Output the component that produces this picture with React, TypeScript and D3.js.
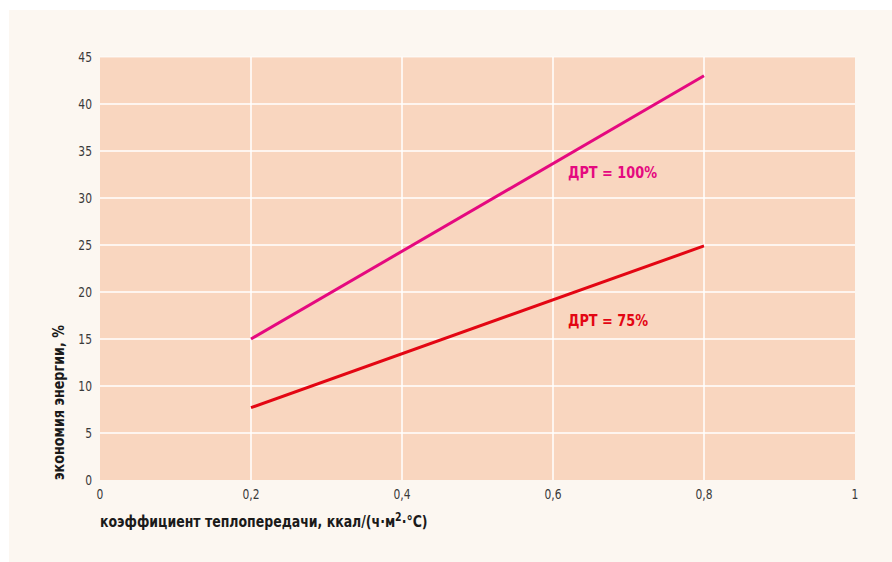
import React from "react";
import * as d3 from "d3";

// Heat transfer coefficient, kcal/(h·m²·°C)
const xValues = [0.2, 0.8];
// Energy savings, %, for each DRT level
const drt100 = [15, 43];
const drt75 = [7.7, 24.9];
const xTicks = [0, 0.2, 0.4, 0.6, 0.8, 1];
const yTicks = [0, 5, 10, 15, 20, 25, 30, 35, 40, 45];
const seriesLabels = ["ДРТ = 100%", "ДРТ = 75%"];

const W = 892;
const H = 562;
const plot = { left: 100, right: 855, top: 57, bottom: 480 };
const font = "'DejaVu Sans Condensed', 'DejaVu Sans', sans-serif";

export default function App() {
  const x = d3.scaleLinear().domain([0, 1]).range([plot.left, plot.right]);
  const y = d3.scaleLinear().domain([0, 45]).range([plot.bottom, plot.top]);
  const line = d3
    .line<[number, number]>()
    .x((d) => x(d[0]))
    .y((d) => y(d[1]));
  const pts = (vals: number[]) => xValues.map((v, i) => [v, vals[i]] as [number, number]);

  return (
    <svg width={W} height={H} style={{ position: "absolute", left: 0, top: 0 }}>
      <rect x={0} y={0} width={W} height={H} fill="#ffffff" />
      <rect x={9} y={10} width={W - 9} height={H - 10} fill="#fcf7f1" />
      <rect
        x={plot.left}
        y={plot.top}
        width={plot.right - plot.left}
        height={plot.bottom - plot.top}
        fill="#f9d6bf"
      />
      {yTicks.slice(1).map((t) => (
        <line key={"gy" + t} x1={plot.left} x2={plot.right} y1={y(t)} y2={y(t)} stroke="#ffffff" strokeWidth={1.5} opacity={t === 45 ? 0.5 : 1} />
      ))}
      {xTicks.slice(1, -1).map((t) => (
        <line key={"gx" + t} x1={x(t)} x2={x(t)} y1={plot.top} y2={plot.bottom} stroke="#ffffff" strokeWidth={1.5} />
      ))}
      {yTicks.map((t) => (
        <text key={"ty" + t} x={92} y={y(t) + 5} textAnchor="end" fontFamily={font} fontSize={14} fill="#3a3a3a"
          transform={`translate(92, 0) scale(0.85, 1) translate(-92, 0)`}>
          {t}
        </text>
      ))}
      {xTicks.map((t) => (
        <text key={"tx" + t} x={x(t)} y={499} textAnchor="middle" fontFamily={font} fontSize={14} fill="#3a3a3a"
          transform={`translate(${x(t)}, 0) scale(0.85, 1) translate(${-x(t)}, 0)`}>
          {String(t).replace(".", ",")}
        </text>
      ))}
      <path d={line(pts(drt100)) || ""} fill="none" stroke="#e5097f" strokeWidth={3} />
      <path d={line(pts(drt75)) || ""} fill="none" stroke="#e30613" strokeWidth={3} />
      <text x={568} y={178} fontFamily={font} fontSize={16} fontWeight="bold" fill="#e5097f"
        textLength={89} lengthAdjust="spacingAndGlyphs">
        {seriesLabels[0]}
      </text>
      <text x={568} y={326} fontFamily={font} fontSize={16} fontWeight="bold" fill="#e30613"
        textLength={80} lengthAdjust="spacingAndGlyphs">
        {seriesLabels[1]}
      </text>
      <text
        transform={`translate(64, ${plot.bottom}) rotate(-90)`}
        fontFamily={font}
        fontSize={16}
        fontWeight="bold"
        fill="#1a1a1a"
        textLength={155}
        lengthAdjust="spacingAndGlyphs"
      >
        экономия энергии, %
      </text>
      <text x={100} y={527} fontFamily={font} fontSize={16} fontWeight="bold" fill="#1a1a1a"
        transform="translate(100, 0) scale(0.87, 1) translate(-100, 0)">
        коэффициент теплопередачи, ккал/(ч·м
        <tspan dy={-6} fontSize={12}>2</tspan>
        <tspan dy={6}>·°C)</tspan>
      </text>
    </svg>
  );
}
